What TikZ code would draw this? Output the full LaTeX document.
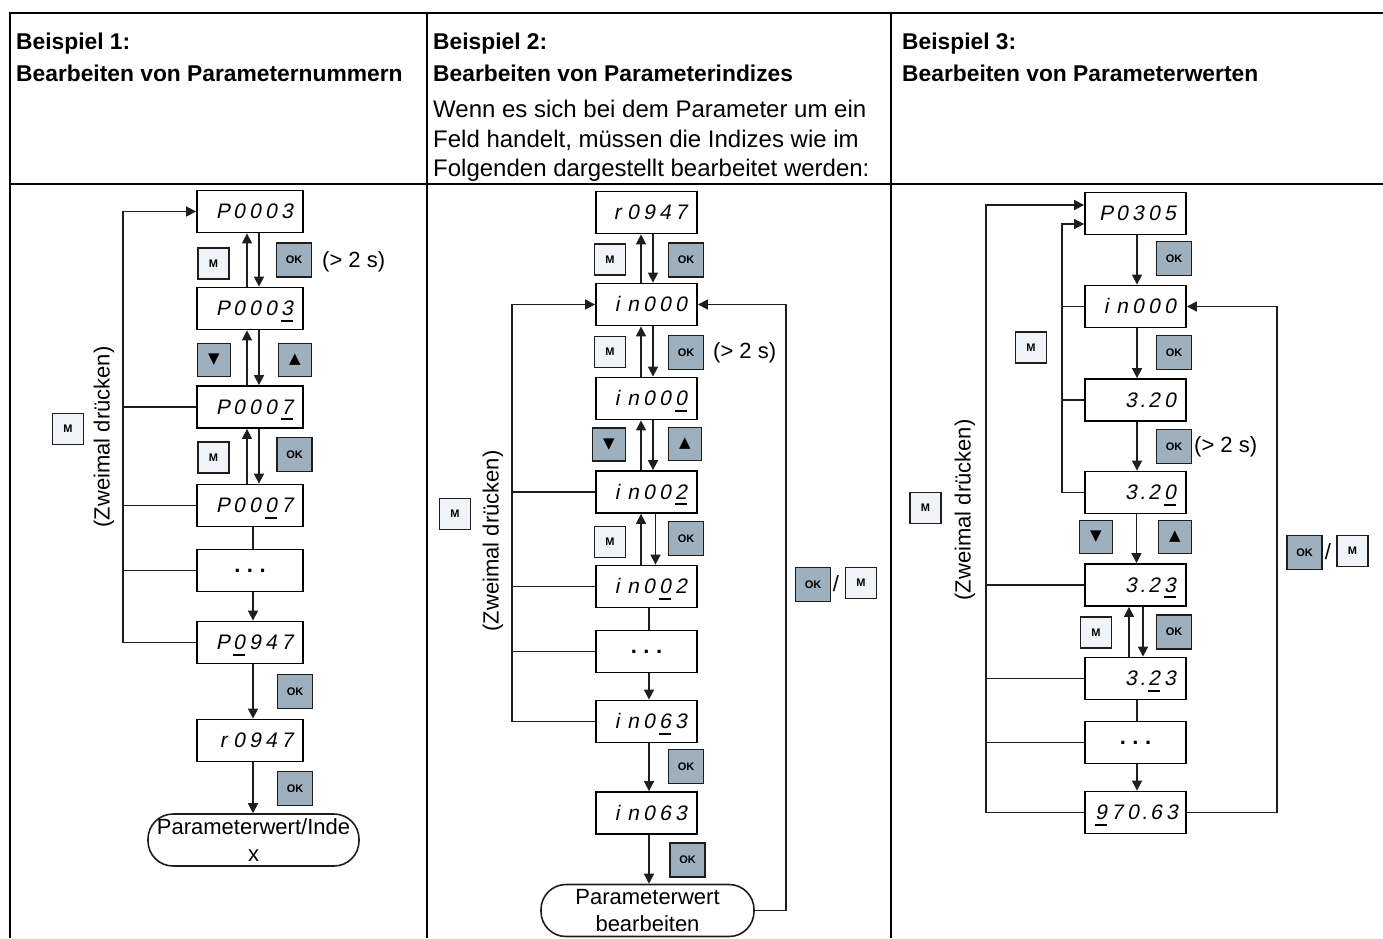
\documentclass[tikz,border=0pt]{standalone}
\usepackage{fontspec}
\setmainfont{Liberation Sans}
\newfontfamily\segfont{Liberation Sans}[FakeSlant=0.2]
\newfontfamily\symfont{DejaVu Sans}
\usetikzlibrary{arrows.meta}
\definecolor{okfill}{RGB}{158,176,190}
\definecolor{mfill}{RGB}{240,244,248}
\definecolor{lncol}{RGB}{30,30,30}
\newlength\segw \setlength\segw{16pt}
\newcommand\uu[1]{\setbox0\hbox{#1}\rlap{\rule[-6pt]{\wd0}{1.6pt}}\box0}
\def\segloop#1{\ifx#1\relax\else\ifx#1.\makebox[7pt][c]{.}\else\makebox[\segw][c]{#1}\fi\expandafter\segloop\fi}
\newcommand\seg[1]{\segloop#1\relax}
\tikzset{
 tbl/.style={line width=1.7pt, draw=black},
 hd/.style={font=\bfseries\fontsize{22.8}{24}\selectfont, anchor=base west, inner sep=0pt},
 bd/.style={font=\fontsize{24}{24}\selectfont, anchor=base west, inner sep=0pt},
 dispbox/.style={draw=black, line width=1.8pt, fill=white, minimum height=42pt, inner xsep=8pt, inner ysep=0pt, align=right, text height=19pt, text depth=5pt, font=\segfont\fontsize{21}{21}\selectfont},
 dA/.style={dispbox, text width=90pt},
 dB/.style={dispbox, text width=85pt},
 dotbox/.style={draw=black, line width=1.8pt, fill=white, minimum height=42pt, inner sep=0pt, font=\bfseries\fontsize{22}{22}\selectfont},
 ln/.style={line width=1.6pt, draw=lncol},
 arr/.style={ln, -{Triangle[length=10pt,width=10pt]}},
 btn/.style={draw=lncol, line width=1.4pt, inner sep=0pt, font=\bfseries\fontsize{11}{11}\selectfont},
 mbtn/.style={btn, fill=mfill, minimum width=31pt, minimum height=31pt},
 okbtn/.style={btn, fill=okfill, minimum width=35pt, minimum height=34pt},
 arbtn/.style={btn, fill=okfill, minimum width=33pt, minimum height=33pt, font=\symfont\fontsize{15}{15}\selectfont},
 lbl/.style={font=\fontsize{22}{22}\selectfont, inner sep=0pt},
 rot/.style={lbl, rotate=90},
 rnd/.style={draw=lncol, line width=1.6pt, rounded corners=25pt, align=center, inner sep=0pt, minimum height=52pt, font=\fontsize{22}{26.5}\selectfont},
}
\begin{document}
\begin{tikzpicture}[x=1pt,y=-1pt]
\useasboundingbox (0,0) rectangle (1383,938);
% table
\draw[tbl] (10,938) -- (10,13) -- (1383,13);
\draw[tbl] (10,184) -- (1383,184);
\draw[tbl] (427,13) -- (427,938);
\draw[tbl] (891,13) -- (891,938);
% header texts
\node[hd] (h1a) at (16,49) {Beispiel 1:};
\node[hd] (h1b) at (16,81) {Bearbeiten von Parameternummern};
\node[hd] (h2a) at (433,49) {Beispiel 2:};
\node[hd] (h2b) at (433,81) {Bearbeiten von Parameterindizes};
\node[bd] (h2c) at (433,117) {Wenn es sich bei dem Parameter um ein};
\node[bd] (h2d) at (433,147) {Feld handelt, müssen die Indizes wie im};
\node[bd] (h2e) at (433,176) {Folgenden dargestellt bearbeitet werden:};
\node[hd] (h3a) at (902,49) {Beispiel 3:};
\node[hd] (h3b) at (902,81) {Bearbeiten von Parameterwerten};

% ================= Column 1 =================
\node[dA] (b1) at (250,211.5) {\seg{P0003}};
\node[dA] (b2) at (250,308.5) {\seg{P000{\uu 3}}};
\node[dA] (b3) at (250,407) {\seg{P000{\uu 7}}};
\node[dA] (b4) at (250,505.5) {\seg{P00{\uu 0}7}};
\node[dotbox, minimum width=106pt] (b5) at (250,570.5) {.\hspace{6.5pt}.\hspace{6.5pt}.};
\node[dA] (b6) at (250,642.5) {\seg{P{\uu 0}947}};
\node[dA] (b7) at (250,740.5) {\seg{r0947}};
\node[rnd, minimum width=211pt] (r1) at (253.5,840) {Parameterwert/Inde\\x};
\coordinate (L1) at (123,0);
\draw[arr] ([xshift=-3pt]b2.north) -- ([xshift=-3pt]b1.south);
\draw[arr] ([xshift=9pt]b1.south) -- ([xshift=9pt]b2.north);
\draw[arr] ([xshift=-3pt]b3.north) -- ([xshift=-3pt]b2.south);
\draw[arr] ([xshift=9pt]b2.south) -- ([xshift=9pt]b3.north);
\draw[arr] ([xshift=-3pt]b4.north) -- ([xshift=-3pt]b3.south);
\draw[arr] ([xshift=9pt]b3.south) -- ([xshift=9pt]b4.north);
\draw[ln] ([xshift=3pt]b4.south) -- ([xshift=3pt]b5.north);
\draw[arr] ([xshift=3pt]b5.south) -- ([xshift=3pt]b6.north);
\draw[arr] ([xshift=3pt]b6.south) -- ([xshift=3pt]b7.north);
\draw[arr] ([xshift=3pt]b7.south) -- ([xshift=3pt]b7.south |- r1.north);
\draw[arr] (b6.west) -- (b6.west -| L1) -- (b1.west -| L1) -- (b1.west);
\draw[ln] (b3.west) -- (b3.west -| L1);
\draw[ln] (b4.west) -- (b4.west -| L1);
\draw[ln] (b5.west) -- (b5.west -| L1);
\node[mbtn] (m11) at (213.5,263.5) {M};
\node[okbtn] (k11) at (294,260) {OK};
\node[lbl, anchor=west] (t11) at (322,262) {(> 2 s)};
\node[arbtn] (dn1) at (214,360) {▼};
\node[arbtn] (up1) at (295,360) {▲};
\node[mbtn] (m12) at (213.5,457.5) {M};
\node[okbtn] (k12) at (294.5,454.5) {OK};
\node[okbtn] (k13) at (295,691.5) {OK};
\node[okbtn] (k14) at (295,788.5) {OK};
\node[mbtn] (m1L) at (68,429) {M};
\node[rot] (z1) at (104,437) {(Zweimal drücken)};

% ================= Column 2 =================
\node[dB] (c1) at (646.5,212.5) {\seg{r0947}};
\node[dB] (c2) at (646.5,304.5) {\seg{in000}};
\node[dB] (c3) at (646.5,398.5) {\seg{in00{\uu 0}}};
\node[dB] (c4) at (646.5,492) {\seg{in00{\uu 2}}};
\node[dB] (c5) at (646.5,586.5) {\seg{in0{\uu 0}2}};
\node[dotbox, minimum width=101pt] (c6) at (646.5,651.5) {.\hspace{6.5pt}.\hspace{6.5pt}.};
\node[dB] (c7) at (646.5,721.5) {\seg{in0{\uu 6}3}};
\node[dB] (c8) at (646.5,813) {\seg{in063}};
\node[rnd, minimum width=213pt] (r2) at (647.5,910.5) {Parameterwert\\bearbeiten};
\coordinate (L2) at (512,0);
\coordinate (R2) at (786,0);
\draw[arr] ([xshift=-5.5pt]c2.north) -- ([xshift=-5.5pt]c1.south);
\draw[arr] ([xshift=6.5pt]c1.south) -- ([xshift=6.5pt]c2.north);
\draw[arr] ([xshift=-5.5pt]c3.north) -- ([xshift=-5.5pt]c2.south);
\draw[arr] ([xshift=6.5pt]c2.south) -- ([xshift=6.5pt]c3.north);
\draw[arr] ([xshift=-5.5pt]c4.north) -- ([xshift=-5.5pt]c3.south);
\draw[arr] ([xshift=6.5pt]c3.south) -- ([xshift=6.5pt]c4.north);
\draw[arr] ([xshift=-5.5pt]c5.north) -- ([xshift=-5.5pt]c4.south);
\draw[arr] ([xshift=9pt]c4.south) -- ([xshift=9pt]c5.north);
\draw[ln] ([xshift=2.5pt]c5.south) -- ([xshift=2.5pt]c6.north);
\draw[arr] ([xshift=2.5pt]c6.south) -- ([xshift=2.5pt]c7.north);
\draw[arr] ([xshift=2.5pt]c7.south) -- ([xshift=2.5pt]c8.north);
\draw[arr] ([xshift=2.5pt]c8.south) -- ([xshift=2.5pt]c8.south |- r2.north);
\draw[arr] (c7.west) -- (c7.west -| L2) -- (c2.west -| L2) -- (c2.west);
\draw[ln] (c4.west) -- (c4.west -| L2);
\draw[ln] (c5.west) -- (c5.west -| L2);
\draw[ln] (c6.west) -- (c6.west -| L2);
\draw[arr] (r2.east) -- (r2.east -| R2) -- (c2.east -| R2) -- (c2.east);
\node[mbtn] (m21) at (610,259.5) {M};
\node[okbtn] (k21) at (686,260) {OK};
\node[mbtn] (m22) at (610,352) {M};
\node[okbtn] (k22) at (686,352.5) {OK};
\node[lbl, anchor=west] (t21) at (713,353) {(> 2 s)};
\node[arbtn] (dn2) at (609,444.5) {▼};
\node[arbtn] (up2) at (685,444) {▲};
\node[mbtn] (m23) at (610,542) {M};
\node[okbtn] (k23) at (686,538.5) {OK};
\node[okbtn] (k24) at (686,766.5) {OK};
\node[okbtn] (k25) at (687.5,860) {OK};
\node[okbtn] (k2R) at (813,584.5) {OK};
\node[lbl] (s2R) at (836,584) {/};
\node[mbtn] (m2R) at (861,583) {M};
\node[mbtn] (m2L) at (455,514) {M};
\node[rot] (z2) at (493,541) {(Zweimal drücken)};

% ================= Column 3 =================
\node[dB] (d1) at (1135.5,213.5) {\seg{P0305}};
\node[dB] (d2) at (1135.5,306.5) {\seg{in000}};
\node[dB] (d3) at (1135.5,400) {\seg{3.20}};
\node[dB] (d4) at (1135.5,492.5) {\seg{3.2{\uu 0}}};
\node[dB] (d5) at (1135.5,585) {\seg{3.2{\uu 3}}};
\node[dB] (d6) at (1135.5,678.5) {\seg{3.{\uu 2}3}};
\node[dotbox, minimum width=101pt] (d7) at (1135.5,742.5) {.\hspace{6.5pt}.\hspace{6.5pt}.};
\node[dB] (d8) at (1135.5,812.5) {\seg{{\uu 9}70.63}};
\coordinate (L3) at (986,0);
\coordinate (I3) at (1062,0);
\coordinate (R3) at (1277,0);
\draw[arr] ([xshift=1.5pt]d1.south) -- ([xshift=1.5pt]d2.north);
\draw[arr] ([xshift=1.5pt]d2.south) -- ([xshift=1.5pt]d3.north);
\draw[arr] ([xshift=1.5pt]d3.south) -- ([xshift=1.5pt]d4.north);
\draw[arr] ([xshift=1pt]d4.south) -- ([xshift=1pt]d5.north);
\draw[arr] ([xshift=-6.5pt]d6.north) -- ([xshift=-6.5pt]d5.south);
\draw[arr] ([xshift=7.5pt]d5.south) -- ([xshift=7.5pt]d6.north);
\draw[ln] ([xshift=1.5pt]d6.south) -- ([xshift=1.5pt]d7.north);
\draw[arr] ([xshift=1.5pt]d7.south) -- ([xshift=1.5pt]d8.north);
\draw[arr] (d8.west) -- (d8.west -| L3) -- ([yshift=8.5pt]d1.west -| L3) -- ([yshift=8.5pt]d1.west);
\draw[ln] (d5.west) -- (d5.west -| L3);
\draw[ln] (d6.west) -- (d6.west -| L3);
\draw[ln] (d7.west) -- (d7.west -| L3);
\draw[arr] (d4.west) -- (d4.west -| I3) -- ([yshift=-10.5pt]d1.west -| I3) -- ([yshift=-10.5pt]d1.west);
\draw[ln] (d2.west) -- (d2.west -| I3);
\draw[ln] (d3.west) -- (d3.west -| I3);
\draw[arr] (d8.east) -- (d8.east -| R3) -- (d2.east -| R3) -- (d2.east);
\node[okbtn] (k31) at (1174,258.5) {OK};
\node[okbtn] (k32) at (1174,352.5) {OK};
\node[mbtn] (m31) at (1031,347.5) {M};
\node[okbtn] (k33) at (1174,446.5) {OK};
\node[lbl, anchor=west] (t31) at (1194,447) {(> 2 s)};
\node[arbtn] (dn3) at (1096,537) {▼};
\node[arbtn] (up3) at (1175,537) {▲};
\node[mbtn] (m32) at (1096,632.5) {M};
\node[okbtn] (k34) at (1174,632) {OK};
\node[okbtn] (k3R) at (1304.5,552.5) {OK};
\node[lbl] (s3R) at (1328,552) {/};
\node[mbtn] (m3R) at (1352.5,551) {M};
\node[mbtn] (m3L) at (925.5,508) {M};
\node[rot] (z3) at (965,510) {(Zweimal drücken)};
\end{tikzpicture}
\end{document}
